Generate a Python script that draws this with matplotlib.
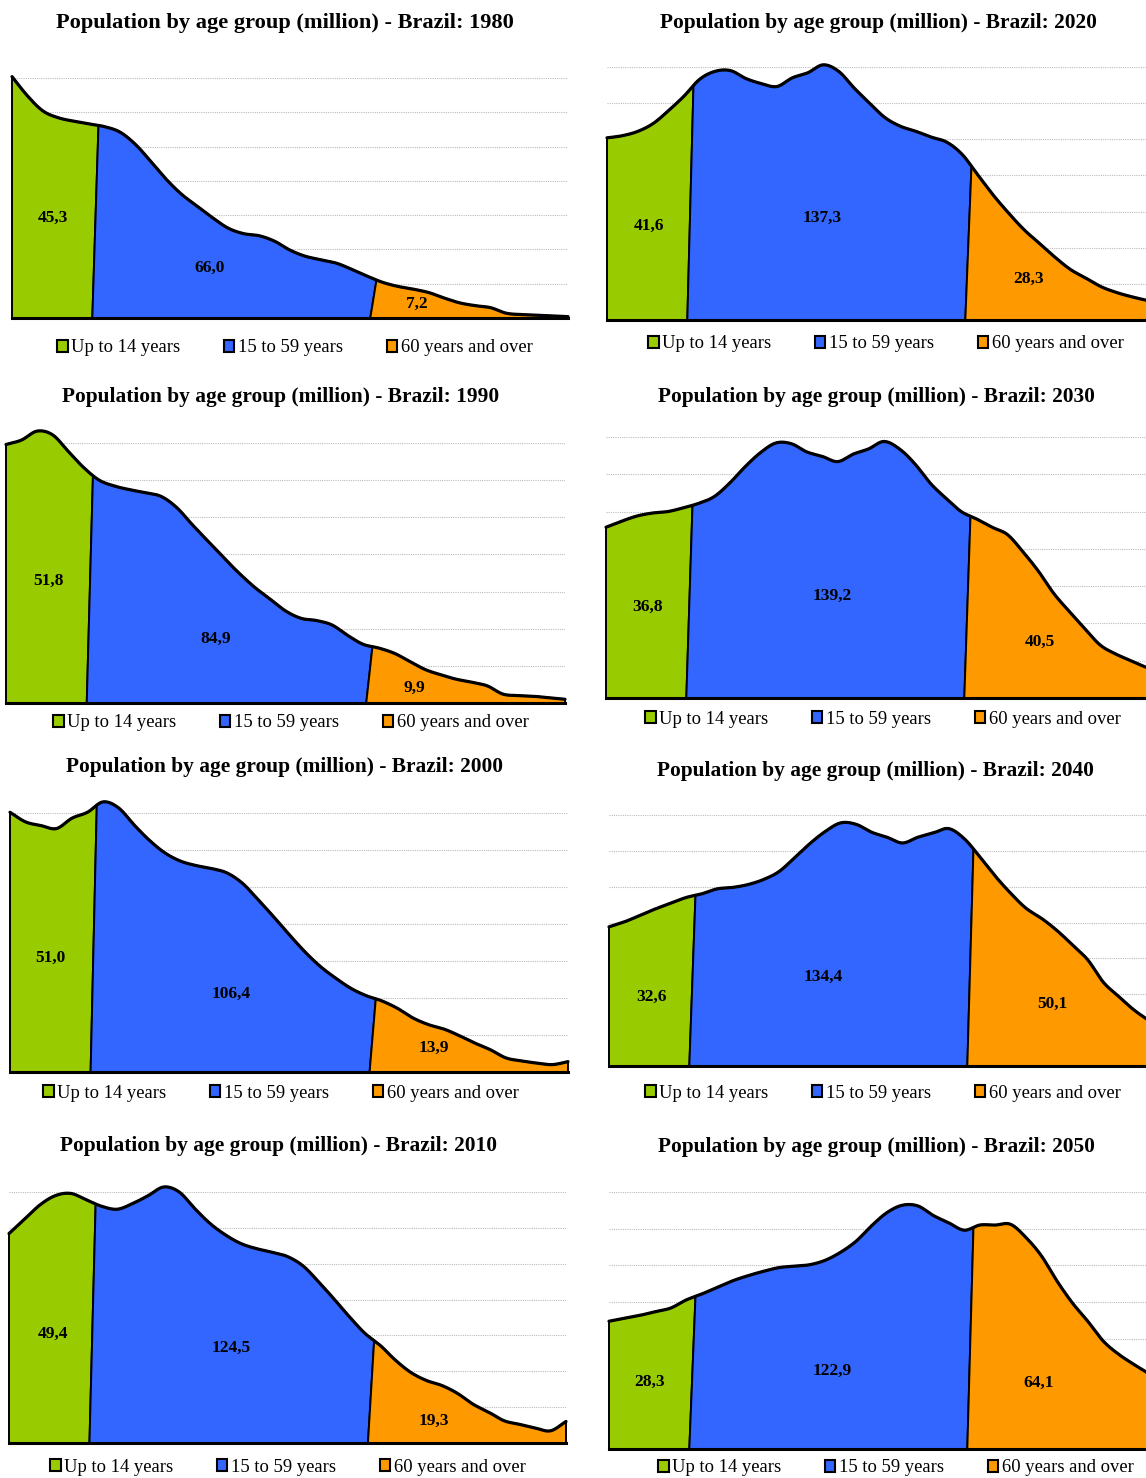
import numpy as np
import matplotlib.pyplot as plt
from matplotlib.patches import Patch

plt.rcParams['font.family'] = ['Liberation Serif', 'DejaVu Serif']

W, H = 1146, 1478

years = [1980, 1990, 2000, 2010, 2020, 2030, 2040, 2050]

# population per single year of age (million), sampled every 2.5 years of age
ages = np.arange(1.5, 92, 2.5)
pop_1980 = [3.52, 3.24, 3.02, 2.92, 2.87, 2.83, 2.79, 2.71, 2.53, 2.28, 2.02, 1.80, 1.63,
            1.46, 1.31, 1.23, 1.20, 1.12, 0.99, 0.90, 0.85, 0.80, 0.71, 0.61, 0.52, 0.46,
            0.42, 0.37, 0.29, 0.22, 0.18, 0.15, 0.07, 0.05, 0.04, 0.03, 0.02]
pop_1990 = [3.48, 3.54, 3.66, 3.61, 3.39, 3.17, 3.00, 2.92, 2.87, 2.83, 2.78, 2.63, 2.40,
            2.18, 1.96, 1.75, 1.56, 1.40, 1.24, 1.14, 1.11, 1.05, 0.91, 0.79, 0.74, 0.67,
            0.56, 0.45, 0.38, 0.32, 0.28, 0.23, 0.12, 0.10, 0.09, 0.07, 0.05]
pop_2000 = [3.51, 3.38, 3.33, 3.29, 3.43, 3.51, 3.65, 3.57, 3.34, 3.13, 2.96, 2.85, 2.79,
            2.75, 2.69, 2.55, 2.33, 2.10, 1.86, 1.63, 1.43, 1.27, 1.13, 1.03, 0.96, 0.86,
            0.73, 0.64, 0.58, 0.49, 0.39, 0.30, 0.19, 0.15, 0.12, 0.10, 0.14]
pop_2010 = [2.92, 3.12, 3.32, 3.45, 3.48, 3.39, 3.30, 3.26, 3.34, 3.45, 3.57, 3.50, 3.27,
            3.06, 2.90, 2.78, 2.71, 2.66, 2.60, 2.47, 2.25, 2.01, 1.76, 1.53, 1.36, 1.15,
            0.98, 0.87, 0.80, 0.69, 0.54, 0.43, 0.31, 0.26, 0.21, 0.17, 0.30]
pop_2020 = [2.52, 2.55, 2.61, 2.72, 2.90, 3.10, 3.33, 3.44, 3.45, 3.34, 3.27, 3.23, 3.35,
            3.42, 3.53, 3.44, 3.21, 3.00, 2.80, 2.68, 2.61, 2.53, 2.46, 2.29, 2.01, 1.73,
            1.48, 1.25, 1.06, 0.87, 0.70, 0.58, 0.46, 0.38, 0.32, 0.27, 0.23]
pop_2030 = [2.29, 2.37, 2.44, 2.48, 2.50, 2.55, 2.61, 2.70, 2.88, 3.10, 3.29, 3.42, 3.41,
            3.30, 3.24, 3.17, 3.27, 3.34, 3.44, 3.34, 3.14, 2.88, 2.68, 2.50, 2.40, 2.29,
            2.19, 1.96, 1.70, 1.40, 1.16, 0.93, 0.71, 0.59, 0.50, 0.41, 0.35]
pop_2040 = [1.94, 2.01, 2.10, 2.19, 2.27, 2.35, 2.40, 2.47, 2.49, 2.53, 2.60, 2.71, 2.90,
            3.10, 3.27, 3.39, 3.37, 3.26, 3.19, 3.11, 3.19, 3.25, 3.31, 3.17, 2.92, 2.65,
            2.41, 2.20, 2.06, 1.89, 1.69, 1.48, 1.17, 0.97, 0.78, 0.63, 0.50]
pop_2050 = [1.74, 1.78, 1.82, 1.87, 1.92, 2.03, 2.11, 2.20, 2.29, 2.36, 2.42, 2.47, 2.49,
            2.51, 2.57, 2.68, 2.83, 3.04, 3.22, 3.32, 3.31, 3.18, 3.08, 2.98, 3.05, 3.05,
            3.06, 2.88, 2.63, 2.29, 1.99, 1.74, 1.47, 1.29, 1.15, 1.02, 0.88]
profiles = [pop_1980, pop_1990, pop_2000, pop_2010, pop_2020, pop_2030, pop_2040, pop_2050]

# group totals (million)
under_15 = [45.3, 51.8, 51.0, 49.4, 41.6, 36.8, 32.6, 28.3]
age_15_59 = [66.0, 84.9, 106.4, 124.5, 137.3, 139.2, 134.4, 122.9]
age_60_over = [7.2, 9.9, 13.9, 19.3, 28.3, 40.5, 50.1, 64.1]

group_names = ['Up to 14 years', '15 to 59 years', '60 years and over']
group_colors = ['#99CC00', '#3366FF', '#FF9900']
group_edges = [15, 60]

# panel boxes in pixels: left, right, top gridline, baseline
boxes = [
    (12, 568, 78, 318),
    (6, 565, 443, 703),
    (10, 568, 813, 1072),
    (9, 566, 1192, 1443),
    (607, 1163, 67, 320),
    (606, 1162, 437, 698),
    (609, 1165, 815, 1066),
    (609, 1165, 1192, 1449),
]
# title centre (x, y) and legend centre (x, y) in pixels
title_xy = [(285, 23), (281, 397), (284, 767), (278, 1146),
            (878, 23), (876, 397), (875, 771), (876, 1147)]
title_size = [16.1, 15.4, 15.4, 15.4, 15.4, 15.4, 15.4, 15.4]
legend_xy = [(295, 348), (291, 723), (281, 1093), (288, 1467),
             (886, 344), (883, 719), (883, 1093), (896, 1468)]

# where each group's total is written, in (age, million) per panel
label_spots = [
    [(8.1, 1.46), (33.4, 0.73), (67.1, 0.20)],
    [(8.3, 1.64), (35.3, 0.86), (67.2, 0.20)],
    [(8.0, 1.54), (37.1, 1.05), (69.9, 0.32)],
    [(8.6, 1.52), (37.4, 1.32), (70.2, 0.31)],
    [(8.3, 1.30), (36.3, 1.41), (69.8, 0.57)],
    [(8.3, 1.22), (38.1, 1.37), (71.7, 0.75)],
    [(8.3, 0.96), (36.1, 1.24), (73.2, 0.86)],
    [(8.1, 0.91), (37.6, 1.06), (71.1, 0.90)],
]


def smooth(x, y, n=1500):
    # cubic hermite through the samples
    x = np.asarray(x, float)
    y = np.asarray(y, float)
    m = np.gradient(y, x)
    xs = np.linspace(x[0], x[-1], n)
    i = np.clip(np.searchsorted(x, xs) - 1, 0, len(x) - 2)
    h = x[i + 1] - x[i]
    t = (xs - x[i]) / h
    h00 = 2 * t**3 - 3 * t**2 + 1
    h10 = t**3 - 2 * t**2 + t
    h01 = -2 * t**3 + 3 * t**2
    h11 = t**3 - t**2
    ys = h00 * y[i] + h10 * h * m[i] + h01 * y[i + 1] + h11 * h * m[i + 1]
    return xs, ys


def fmt(v):
    return f'{v:.1f}'.replace('.', ',')


fig = plt.figure(figsize=(W / 100, H / 100), dpi=100)

for k, year in enumerate(years):
    left, right, top, base = boxes[k]
    ax = fig.add_axes([left / W, 1 - base / H, (right - left) / W, (base - top) / H])
    ax.set_xlim(ages[0], ages[-1])
    ax.set_ylim(0, 3.5)
    ax.set_xticks([])
    ax.set_yticks(np.arange(0.5, 3.6, 0.5))
    ax.tick_params(left=False, labelleft=False)
    ax.grid(axis='y', color='#bcbcbc', linestyle=(0, (1, 1)), linewidth=0.8)
    ax.set_axisbelow(True)
    for side in ['top', 'right', 'left']:
        ax.spines[side].set_visible(False)
    ax.spines['bottom'].set_linewidth(2.2)
    ax.spines['bottom'].set_zorder(5)

    xs, ys = smooth(ages, profiles[k])
    edges = [ages[0]] + group_edges + [ages[-1]]
    totals = [under_15[k], age_15_59[k], age_60_over[k]]
    d = 0.5  # boundaries lean slightly: bottom sits left of the top
    for g in range(3):
        x0, x1 = edges[g], edges[g + 1]
        ts = x0 + d if g > 0 else x0
        bs = x0 - d if g > 0 else x0
        te = x1 + d if g < 2 else x1
        be = x1 - d if g < 2 else x1
        m = (xs > ts) & (xs < te)
        px = np.concatenate([[bs, ts], xs[m], [te, be]])
        py = np.concatenate([[0, np.interp(ts, xs, ys)], ys[m], [np.interp(te, xs, ys), 0]])
        ax.fill(px, py, facecolor=group_colors[g], edgecolor='black', linewidth=1.4,
                clip_on=False, zorder=2)

        lx, ly = label_spots[k][g]
        ax.text(lx, ly, fmt(totals[g]), ha='center', va='center', fontsize=12.5,
                fontweight='bold', zorder=6)

    ax.plot(xs, ys, color='black', linewidth=2.3, clip_on=False, zorder=4,
            solid_capstyle='round')

    tx, ty = title_xy[k]
    fig.text(tx / W, 1 - ty / H, f'Population by age group (million) - Brazil: {year}',
             ha='center', va='center', fontsize=title_size[k], fontweight='bold')

    handles = [Patch(facecolor=c, edgecolor='black', linewidth=1.5, label=n)
               for c, n in zip(group_colors, group_names)]
    lx, ly = legend_xy[k]
    fig.legend(handles=handles, loc='center', bbox_to_anchor=(lx / W, 1 - ly / H),
               ncol=3, frameon=False, fontsize=13.4, handlelength=0.55, handleheight=0.55,
               handletextpad=0.2, columnspacing=2.35, borderpad=0, borderaxespad=0)

fig.savefig('out.png', dpi=100)
